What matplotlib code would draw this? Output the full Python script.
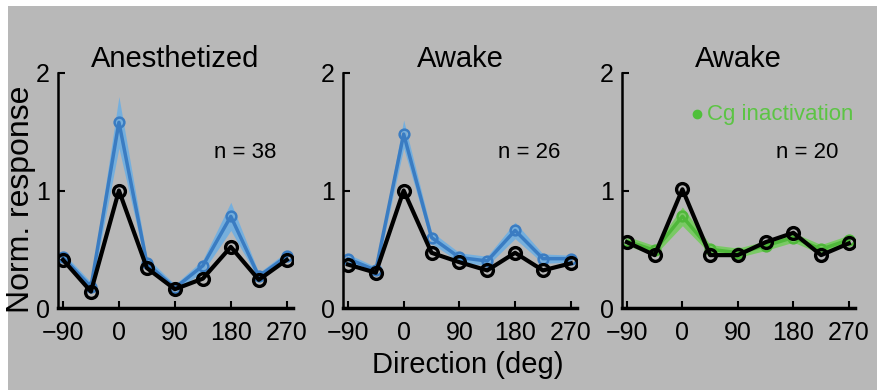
import matplotlib.pyplot as plt
from matplotlib.patches import Rectangle
import numpy as np

# Direcoes (graus)
directions = [-90, -45, 0, 45, 90, 135, 180, 225, 270]

# Anestesiado
anes_ctrl = [0.41, 0.14, 1.00, 0.34, 0.16, 0.25, 0.52, 0.24, 0.41]
anes_blue = [0.43, 0.18, 1.58, 0.38, 0.17, 0.36, 0.78, 0.27, 0.44]
anes_blue_err = [0.04, 0.04, 0.22, 0.05, 0.03, 0.05, 0.12, 0.03, 0.04]

# Acordado
awake_ctrl = [0.37, 0.30, 1.00, 0.47, 0.39, 0.32, 0.47, 0.32, 0.38]
awake_blue = [0.42, 0.32, 1.48, 0.60, 0.43, 0.40, 0.66, 0.42, 0.42]
awake_blue_err = [0.04, 0.03, 0.12, 0.05, 0.04, 0.04, 0.07, 0.04, 0.03]

# Acordado + inativacao Cg
cg_ctrl = [0.56, 0.45, 1.01, 0.45, 0.45, 0.56, 0.64, 0.45, 0.55]
cg_green = [0.57, 0.49, 0.78, 0.50, 0.47, 0.53, 0.60, 0.50, 0.58]
cg_green_err = [0.04, 0.04, 0.08, 0.04, 0.04, 0.04, 0.04, 0.04, 0.04]

titles = ['Anesthetized', 'Awake', 'Awake']
n_labels = ['n = 38', 'n = 26', 'n = 20']
xticks = [-90, 0, 90, 180, 270]
yticks = [0, 1, 2]

BG = '#b8b8b8'
FONT = ['Liberation Sans', 'DejaVu Sans']
plt.rcParams['font.family'] = FONT

fig = plt.figure(figsize=(8.78, 3.9), dpi=100)
fig.patch.set_facecolor('white')
fig.patches.append(Rectangle((8 / 878, 0), 1, 1 - 6 / 390, transform=fig.transFigure,
                             facecolor=BG, edgecolor='none', zorder=-10))

lefts = [58, 343, 622]
widths = [235, 234, 233]
panels = [
    (anes_ctrl, anes_blue, anes_blue_err, '#3a7cc2', '#6eaee2'),
    (awake_ctrl, awake_blue, awake_blue_err, '#3a7cc2', '#6eaee2'),
    (cg_ctrl, cg_green, cg_green_err, '#4fb83a', '#74cc5c'),
]

for i, (ctrl, cond, err, c_line, c_band) in enumerate(panels):
    ax = fig.add_axes([lefts[i] / 878, 82 / 390, widths[i] / 878, 235 / 390])
    ax.set_facecolor('none')
    x = np.array(directions)
    m = np.array(cond)
    e = np.array(err)
    ax.fill_between(x, m - e, m + e, color=c_band, alpha=0.9, lw=0, zorder=1)
    ax.plot(x, m, color=c_line, lw=2.5, marker='o', ms=7, mfc='none', mec=c_line,
            mew=1.8, zorder=2)
    ax.plot(x, ctrl, color='black', lw=3, marker='o', ms=8.5, mfc='none', mec='black',
            mew=2.4, zorder=3)

    ax.set_xlim(-98, 280)
    ax.set_ylim(0, 2)
    ax.set_xticks(xticks)
    ax.set_yticks(yticks)
    ax.spines['top'].set_visible(False)
    ax.spines['right'].set_visible(False)
    ax.spines['bottom'].set_linewidth(2.5)
    ax.spines['left'].set_linewidth(1.8)
    ax.tick_params(direction='in', length=5, width=1.5, labelsize=18)
    ax.tick_params(axis='x', pad=9)
    ax.tick_params(axis='y', pad=6)

    ax.set_title(titles[i], fontsize=21, pad=4)
    ax.text(203, 1.32, n_labels[i], fontsize=16, ha='center', va='center')

    if i == 2:
        ax.plot([24], [1.65], 'o', color='#4fc03a', ms=6)
        ax.text(40, 1.65, 'Cg inactivation', fontsize=16,
                color='#5cc444', va='center', ha='left')

fig.text(21 / 878, 0.49, 'Norm. response', rotation=90, fontsize=23,
         ha='center', va='center')
fig.text(468 / 878, 0.063, 'Direction (deg)', fontsize=21,
         ha='center', va='center')

fig.savefig('out.png', dpi=100, facecolor=fig.get_facecolor())
